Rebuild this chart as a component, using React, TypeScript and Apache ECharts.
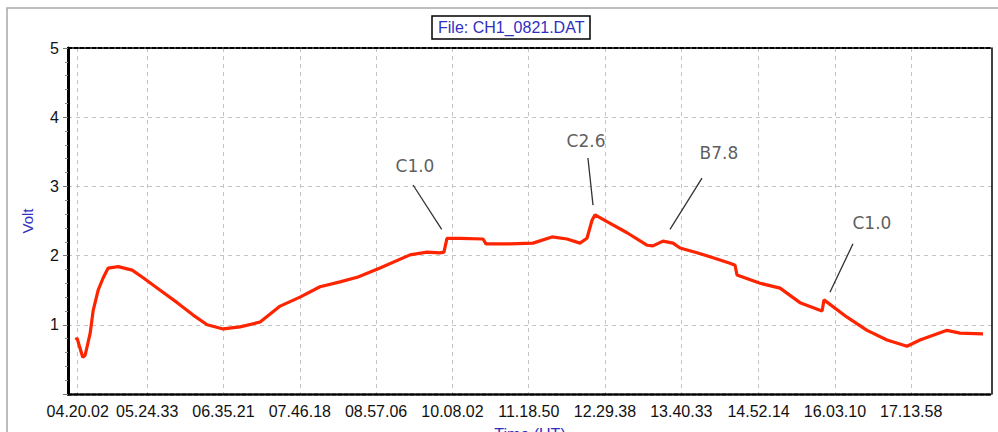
import React, { useEffect, useRef } from "react";
import * as echarts from "echarts";

// X tick labels (UT, hh.mm.ss)
const tickLabels = [
  "04.20.02", "05.24.33", "06.35.21", "07.46.18", "08.57.06", "10.08.02",
  "11.18.50", "12.29.38", "13.40.33", "14.52.14", "16.03.10", "17.13.58",
];

// Time in minutes after 00:00 UT
const times = [
  258.4, 259.4, 262.2, 264.7, 266.9, 271.6, 274.4, 279.0, 283.7, 288.3,
  297.6, 310.6, 320.8, 336.6, 352.4, 367.2, 380.2, 395.1, 410.8, 429.4,
  448.0, 466.4, 485.0, 503.6, 520.3, 540.7, 568.6, 584.3, 596.4, 600.1,
  602.9, 615.0, 636.4, 639.1, 661.4, 682.8, 700.4, 714.4, 726.4, 732.9,
  737.6, 740.4, 751.5, 770.1, 788.6, 794.2, 803.5, 812.8, 819.3, 835.1,
  850.0, 865.7, 870.4, 872.2, 893.6, 912.2, 930.7, 949.3, 951.2, 953.0,
  974.4, 993.0, 1011.5, 1030.1, 1042.1, 1067.2, 1079.3, 1100.6,
];
// Voltage
const volts = [
  0.78, 0.81, 0.66, 0.53, 0.56, 0.88, 1.21, 1.50, 1.68, 1.82,
  1.84, 1.79, 1.68, 1.50, 1.32, 1.14, 1.00, 0.94, 0.97, 1.04,
  1.27, 1.40, 1.55, 1.62, 1.69, 1.82, 2.01, 2.05, 2.04, 2.05,
  2.25, 2.25, 2.24, 2.17, 2.17, 2.18, 2.27, 2.24, 2.18, 2.25,
  2.51, 2.59, 2.49, 2.33, 2.15, 2.14, 2.21, 2.18, 2.11, 2.04,
  1.97, 1.89, 1.86, 1.72, 1.60, 1.53, 1.32, 1.21, 1.20, 1.36,
  1.11, 0.92, 0.78, 0.69, 0.78, 0.92, 0.88, 0.87,
];

// Flare annotations
const flareNames = ["C1.0", "C2.6", "B7.8", "C1.0"];
const flareLabelTime = [573.2, 732.0, 855.4, 997.5];
const flareLabelVolt = [3.30, 3.66, 3.48, 2.47];
const leaderStartTime = [571.4, 733.8, 839.7, 979.9];
const leaderStartVolt = [3.02, 3.41, 3.12, 2.17];
const leaderEndTime = [598.0, 738.5, 810.0, 958.5];
const leaderEndVolt = [2.38, 2.73, 2.38, 1.47];

const toMinutes = (s: string) => {
  const [h, m, sec] = s.split(".").map(Number);
  return h * 60 + m + sec / 60;
};
const tickValues = tickLabels.map(toMinutes);

const FONT = "'Liberation Sans', Arial, sans-serif";
const BLUE = "#2f2fbf";

export default function App() {
  const ref = useRef<HTMLDivElement>(null);
  useEffect(() => {
    document.body.style.margin = "0";
    if (!ref.current) return;
    const chart = echarts.init(ref.current, undefined, { renderer: "svg" });
    const xMin = 251;
    const xMax = 1109;
    const labelFor = (v: number) => {
      const i = tickValues.findIndex((t) => Math.abs(t - v) < 0.01);
      return i >= 0 ? tickLabels[i] : "";
    };
    chart.setOption({
      animation: false,
      backgroundColor: "#fff",
      title: {
        text: "File: CH1_0821.DAT",
        left: 432,
        top: 16,
        padding: [3, 6],
        borderColor: "#000",
        borderWidth: 1.5,
        textStyle: {
          fontFamily: FONT,
          fontSize: 16,
          fontWeight: "normal",
          color: BLUE,
          lineHeight: 17,
        },
      },
      graphic: [
        {
          type: "rect",
          shape: { x: 7, y: 8, width: 1000, height: 440 },
          style: { fill: "none", stroke: "#a8a8a8", lineWidth: 1.5 },
          silent: true,
        },
      ],
      grid: {
        left: 68,
        right: 6,
        top: 48,
        bottom: 38,
        containLabel: false,
        outerBoundsMode: "none",
      },
      xAxis: [
        {
          type: "value",
          min: xMin,
          max: xMax,
          name: "Time (UT)",
          nameLocation: "middle",
          nameGap: 32,
          nameTextStyle: { fontFamily: FONT, fontSize: 16, color: BLUE },
          axisLine: {
            show: true,
            onZero: false,
            lineStyle: { color: "#000", width: 2.5, type: [4, 2] },
          },
          axisTick: { show: false, customValues: tickValues },
          axisLabel: {
            customValues: tickValues,
            formatter: labelFor,
            fontFamily: FONT,
            fontSize: 16,
            color: "#111",
            margin: 9,
          },
          splitLine: {
            show: true,
            lineStyle: { color: "#c4c4c4", width: 1, type: [4, 4] },
          },
        },
        {
          type: "value",
          position: "top",
          min: xMin,
          max: xMax,
          axisLine: {
            show: true,
            onZero: false,
            lineStyle: { color: "#000", width: 2, type: [4, 2] },
          },
          axisTick: { show: false },
          axisLabel: { show: false },
          splitLine: { show: false },
        },
      ],
      yAxis: [
        {
          type: "value",
          min: 0,
          max: 5,
          interval: 1,
          name: "Volt",
          nameLocation: "middle",
          nameGap: 33,
          nameTextStyle: { fontFamily: FONT, fontSize: 15, color: BLUE },
          axisLine: {
            show: true,
            onZero: false,
            lineStyle: { color: "#000", width: 3 },
          },
          axisTick: { show: true, length: 5, lineStyle: { color: "#777" } },
          minorTick: {
            show: true,
            splitNumber: 5,
            length: 3,
            lineStyle: { color: "#888" },
          },
          axisLabel: {
            formatter: (v: number) => (v === 0 ? "" : String(v)),
            fontFamily: FONT,
            fontSize: 16,
            color: "#111",
            margin: 9,
          },
          splitLine: {
            show: true,
            lineStyle: { color: "#c4c4c4", width: 1, type: [4, 4] },
          },
        },
        {
          type: "value",
          position: "right",
          min: 0,
          max: 5,
          interval: 1,
          axisLine: {
            show: true,
            onZero: false,
            lineStyle: { color: "#000", width: 1.5 },
          },
          axisTick: { show: false },
          axisLabel: { show: false },
          splitLine: { show: false },
        },
      ],
      series: [
        {
          type: "line",
          xAxisIndex: 0,
          yAxisIndex: 0,
          data: times.map((t, i) => [t, volts[i]]),
          showSymbol: false,
          symbol: "none",
          lineStyle: { color: "#ff2400", width: 3.2 },
          z: 5,
        },
        {
          type: "scatter",
          xAxisIndex: 0,
          yAxisIndex: 0,
          symbol: "circle",
          symbolSize: 1,
          itemStyle: { color: "rgba(0,0,0,0)" },
          silent: true,
          data: flareNames.map((n, i) => ({
            name: n,
            value: [flareLabelTime[i], flareLabelVolt[i]],
          })),
          label: {
            show: true,
            position: "inside",
            formatter: "{b}",
            fontFamily: "'DejaVu Sans', Verdana, sans-serif",
            fontSize: 17,
            color: "#333",
          },
          markLine: {
            silent: true,
            symbol: ["none", "none"],
            label: { show: false },
            lineStyle: { color: "#333", width: 1.3, type: "solid" },
            data: flareNames.map((_, i) => [
              { coord: [leaderStartTime[i], leaderStartVolt[i]] },
              { coord: [leaderEndTime[i], leaderEndVolt[i]] },
            ]),
          },
          z: 6,
        },
      ],
    });
    return () => chart.dispose();
  }, []);
  return <div ref={ref} style={{ width: 998, height: 432 }} />;
}
